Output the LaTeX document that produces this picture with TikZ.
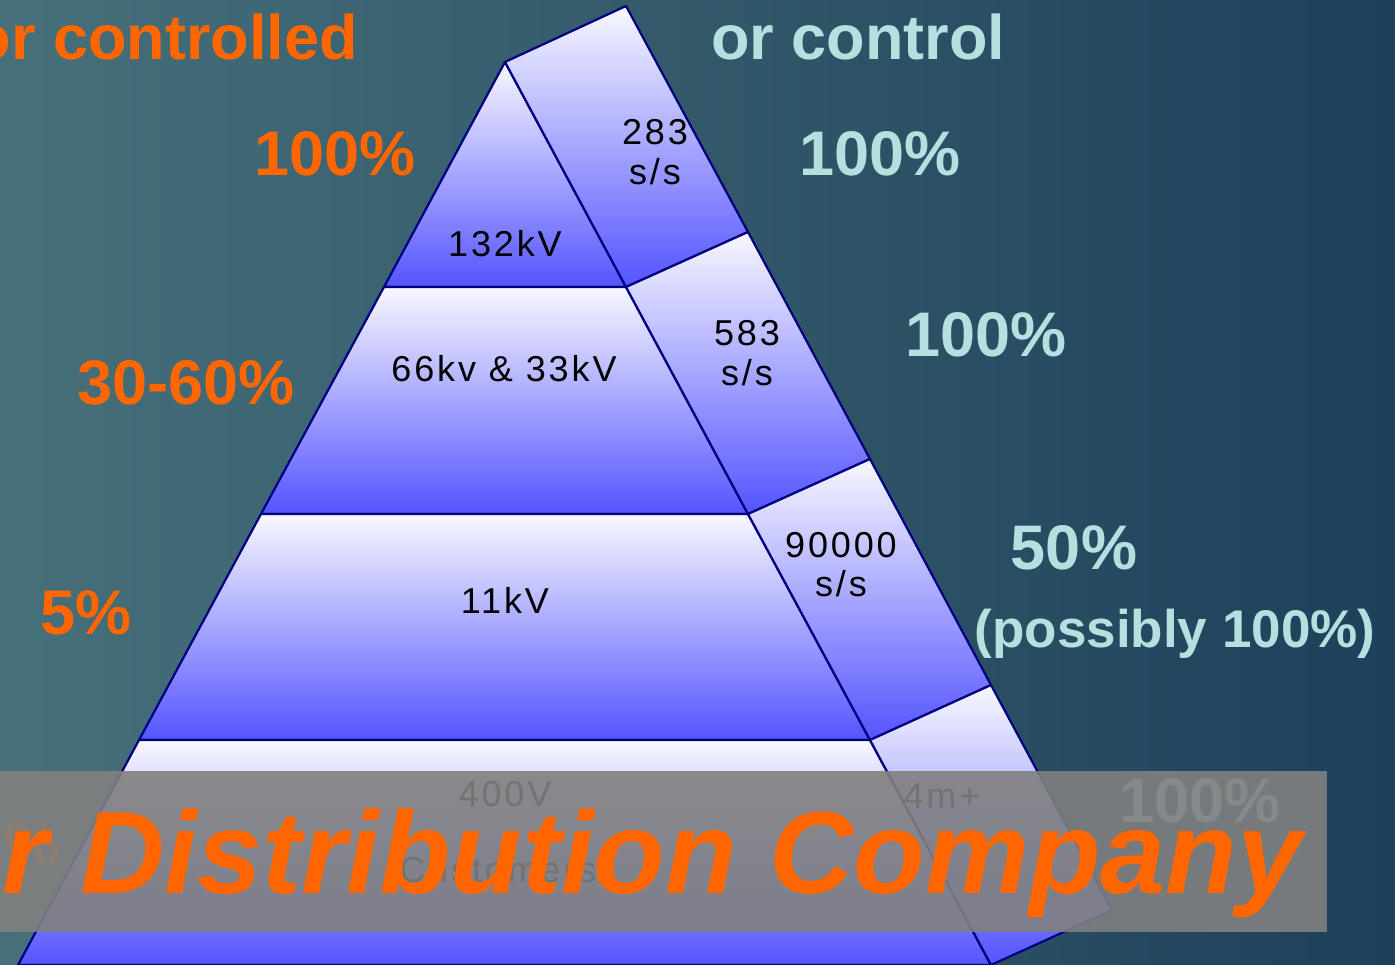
\documentclass[tikz,border=0pt]{standalone}
\usepackage{fontspec}
\setmainfont{Liberation Sans}
\definecolor{bgL}{RGB}{70,112,122}
\definecolor{bgR}{RGB}{30,64,90}
\definecolor{lite}{RGB}{248,248,255}
\definecolor{deep}{RGB}{84,84,255}
\definecolor{navy}{RGB}{0,0,128}
\definecolor{orng}{RGB}{255,102,0}
\definecolor{cyn}{RGB}{180,224,224}
\definecolor{veil}{RGB}{128,128,128}
\tikzset{
  band/.style={draw=navy, line width=2.2pt, line join=round, top color=lite, bottom color=deep},
  lbl/.style={inner sep=0pt, anchor=base, text=black,
    font=\fontsize{36}{40}\selectfont\addfontfeature{LetterSpace=8}},
  pct/.style={inner sep=0pt, anchor=base, font=\bfseries\fontsize{63}{70}\selectfont},
  lpct/.style={pct, text=orng},
  rpct/.style={pct, text=cyn},
}
\begin{document}
\begin{tikzpicture}[x=1pt,y=-1pt]
\useasboundingbox (0,0) rectangle (1395,965);
\clip (0,0) rectangle (1395,965);
\shade[left color=bgL, right color=bgR] (0,0) rectangle (1395,965);

% pyramid corners
\coordinate (A) at (505,62);
\coordinate (T) at (626,6);
\coordinate (L1) at (384,287); \coordinate (R1) at (626,287);
\coordinate (L2) at (261,514); \coordinate (R2) at (748,514);
\coordinate (L3) at (139,740); \coordinate (R3) at (870,740);
\coordinate (L4) at (18,965);  \coordinate (R4) at (991,965);
\coordinate (S1) at (748,232); \coordinate (S2) at (870,459);
\coordinate (S3) at (991,685); \coordinate (S4) at (1112,910);

% front bands
\path[band] (A) -- (R1) -- (L1) -- cycle;
\path[band] (L1) -- (R1) -- (R2) -- (L2) -- cycle;
\path[band] (L2) -- (R2) -- (R3) -- (L3) -- cycle;
\path[band] (L3) -- (R3) -- (R4) -- (L4) -- cycle;
% side face
\path[band] (A) -- (T) -- (S1) -- (R1) -- cycle;
\path[band] (R1) -- (S1) -- (S2) -- (R2) -- cycle;
\path[band] (R2) -- (S2) -- (S3) -- (R3) -- cycle;
\path[band] (R3) -- (S3) -- (S4) -- (R4) -- cycle;

% band labels
\node[lbl] (v132) at (505,257) {132kV};
\node[lbl] (v66) at (504,382) {66kv \& 33kV};
\node[lbl] (v11) at (505,613) {11kV};
\node[lbl] (v400) at (505,806) {400V};
\node[lbl] (cust) at (498,882) {Customers};
\node[lbl] (n283) at (655,145) {283};
\node[lbl] (s283) at (655,185) {s/s};
\node[lbl] (n583) at (747,346) {583};
\node[lbl] (s583) at (747,386) {s/s};
\node[lbl] (n90k) at (841,557) {90000};
\node[lbl] (s90k) at (841,596) {s/s};
\node[lbl] (n4m) at (942,808) {4m+};

% headings
\node[lpct, anchor=base east] (hl) at (358,60) {or controlled};
\node[rpct, anchor=base west] (hr) at (711,60) {or control};

% left percentages
\node[lpct] (p1) at (335,176) {100\%};
\node[lpct] (p2) at (186,405) {30-60\%};
\node[lpct] (p3) at (86,634) {5\%};
\node[lpct, anchor=base east] (p4) at (60,866) {1\%};
% right percentages
\node[rpct] (q1) at (880,176) {100\%};
\node[rpct] (q2) at (986,357) {100\%};
\node[rpct] (q3) at (1074,569) {50\%};
\node[rpct, font=\bfseries\fontsize{53}{60}\selectfont] (q3b) at (1175,647) {(possibly 100\%)};
\node[rpct] (q4) at (1200,822) {100\%};

% grey banner
\fill[veil, opacity=0.9] (0,771) rectangle (1327,932);
\node[inner sep=0pt, anchor=base west, text=orng,
  font=\bfseries\itshape\fontsize{117}{122}\selectfont] (title) at (2,893) {r Distribution Company};
\end{tikzpicture}
\end{document}
